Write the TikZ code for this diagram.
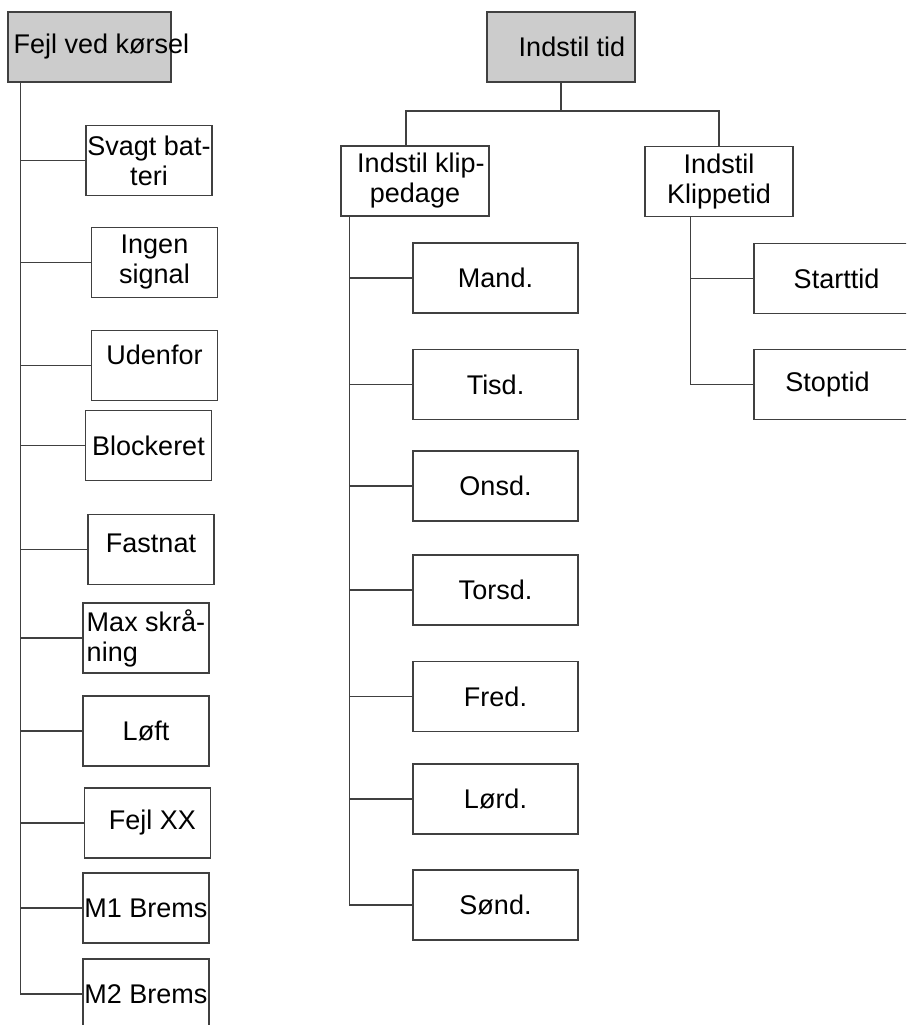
\documentclass[tikz,border=0pt]{standalone}
\usepackage{fontspec}
\setmainfont{Liberation Sans}
\usepackage{tikz}

\begin{document}
\begin{tikzpicture}[
    x=1pt, y=-1pt,
    box/.style={draw=black!75, line width=1.5pt, minimum width=126pt, minimum height=70pt, inner sep=0pt, align=center, font=\fontsize{27}{30}\selectfont},
    head/.style={box, fill=gray!40, minimum width=148pt},
    sub/.style={box, minimum width=148pt},
    day/.style={box, minimum width=165pt},
    conn/.style={draw=black!75, line width=1.5pt},
]
\useasboundingbox (0,0) rectangle (906,1025);
\clip (0,0) rectangle (906,1025);
% venstre træ
\node[head, minimum width=163pt] (fejl) at (89.5,47) {\makebox[0pt]{\hspace*{24pt}Fejl ved kørsel}};
\node[box] (svagt) at (149,160.5) {Svagt bat-\\teri};
\node[box] (ingen) at (154.5,262.5) {Ingen\\signal};
\node[box, text depth=22pt] (udenfor) at (154.5,365.5) {Udenfor};
\node[box] (blok) at (148.5,445.5) {Blockeret};
\node[box, text depth=12pt] (fastnat) at (151,549.5) {Fastnat};
\node[box, align=left] (maxskr) at (146,638) {Max skrå-\\ning};
\node[box] (loeft) at (146,731) {Løft};
\node[box] (fejlxx) at (147.5,823) {\hspace*{10pt}Fejl XX};
\node[box] (mbrems1) at (146,908) {M1 Brems};
\node[box] (mbrems2) at (146,994) {M2 Brems};
\draw[conn] ([xshift=13pt]fejl.south west) coordinate (fejlT) -- (fejlT |- mbrems2.west);
\draw[conn] (fejlT |- svagt.west) -- (svagt.west);
\draw[conn] (fejlT |- ingen.west) -- (ingen.west);
\draw[conn] (fejlT |- udenfor.west) -- (udenfor.west);
\draw[conn] (fejlT |- blok.west) -- (blok.west);
\draw[conn] (fejlT |- fastnat.west) -- (fastnat.west);
\draw[conn] (fejlT |- maxskr.west) -- (maxskr.west);
\draw[conn] (fejlT |- loeft.west) -- (loeft.west);
\draw[conn] (fejlT |- fejlxx.west) -- (fejlxx.west);
\draw[conn] (fejlT |- mbrems1.west) -- (mbrems1.west);
\draw[conn] (fejlT |- mbrems2.west) -- (mbrems2.west);
% højre træ
\node[head] (tid) at (561,47) {\hspace*{22pt}Indstil tid};
\node[sub] (klipd) at (415,181) {\hspace*{12pt}Indstil klip-\\pedage};
\node[sub] (klipt) at (719,181.5) {Indstil\\Klippetid};
\node[day] (mand) at (495.5,278) {Mand.};
\node[day] (tisd) at (495.5,384.5) {Tisd.};
\node[day] (onsd) at (495.5,486) {Onsd.};
\node[day] (torsd) at (495.5,590) {Torsd.};
\node[day] (fred) at (495.5,696.5) {Fred.};
\node[day] (loerd) at (495.5,799) {Lørd.};
\node[day] (soend) at (495.5,905) {Sønd.};
\node[day] (start) at (836.5,278.5) {Starttid};
\node[day] (stop) at (836.5,384.5) {\makebox[0pt]{Stoptid\hspace*{18pt}}};
\draw[conn] (tid.south) -- ++(0,28) coordinate (tidT);
\draw[conn] (tidT) -| ([xshift=-9pt]klipd.north);
\draw[conn] (tidT) -| (klipt.north);
\draw[conn] ([xshift=9pt]klipd.south west) coordinate (klipdT) -- (klipdT |- soend.west);
\draw[conn] (klipdT |- mand.west) -- (mand.west);
\draw[conn] (klipdT |- tisd.west) -- (tisd.west);
\draw[conn] (klipdT |- onsd.west) -- (onsd.west);
\draw[conn] (klipdT |- torsd.west) -- (torsd.west);
\draw[conn] (klipdT |- fred.west) -- (fred.west);
\draw[conn] (klipdT |- loerd.west) -- (loerd.west);
\draw[conn] (klipdT |- soend.west) -- (soend.west);
\draw[conn] ([xshift=46pt]klipt.south west) coordinate (kliptT) -- (kliptT |- stop.west);
\draw[conn] (kliptT |- start.west) -- (start.west);
\draw[conn] (kliptT |- stop.west) -- (stop.west);
\end{tikzpicture}
\end{document}
